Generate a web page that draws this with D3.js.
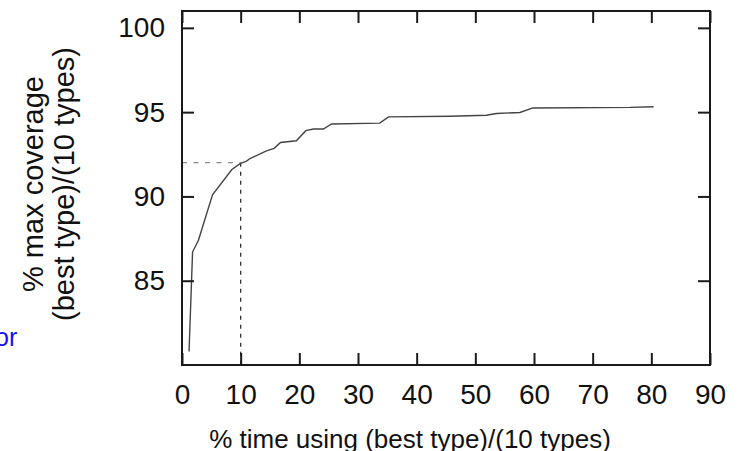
<!DOCTYPE html>
<html>
<head>
<meta charset="utf-8">
<script src="https://cdn.jsdelivr.net/npm/d3@7"></script>
<style>
  body { margin: 0; background: #fff; }
  svg text { font-family: "Liberation Sans", Arial, Helvetica, sans-serif; fill: #111; }
  .axis path { display: none; }
  .axis line { stroke: #1a1a1a; stroke-width: 2; }
</style>
</head>
<body>
<div id="visualization"></div>
<script>
// % time using (best type)/(10 types)
var timePct = [1.2, 1.8, 2.8, 5.2, 8.5, 9.9, 11.0, 11.6, 14.4, 15.7, 16.8, 19.5, 21.1, 22.4,
               24.1, 25.5, 33.7, 35.2, 45.7, 51.9, 53.6, 57.6, 59.8, 76.4, 80.4];
// % max coverage (best type)/(10 types)
var coveragePct = [80.8, 86.7, 87.4, 90.1, 91.6, 91.95, 92.1, 92.25, 92.7, 92.85, 93.2, 93.3, 93.9, 94.0,
                   94.0, 94.3, 94.35, 94.72, 94.76, 94.82, 94.92, 94.98, 95.25, 95.28, 95.32];
var xTicks = [0, 10, 20, 30, 40, 50, 60, 70, 80, 90];
var yTicks = [85, 90, 95, 100];
var marker = {x: 10, y: 92};

render();

function render() {
  var width = 744, height = 451;
  var margin = {top: 11, right: 34, bottom: 86, left: 182};

  var x = d3.scaleLinear()
            .domain([0, 90])
            .range([margin.left, width - margin.right]);

  var y = d3.scaleLinear()
            .domain([80, 101])
            .range([height - margin.bottom, margin.top]);

  var svg = d3.select('#visualization').append('svg')
              .attr('width', width)
              .attr('height', height);

  var data = timePct.map(function(t, i) { return {x: t, y: coveragePct[i]}; });

  // reference lines at 10%
  svg.append('line')
     .attr('x1', x(0)).attr('x2', x(marker.x))
     .attr('y1', y(marker.y)).attr('y2', y(marker.y))
     .attr('stroke', '#8a8a8a').attr('stroke-width', 1.3)
     .attr('stroke-dasharray', '5,6.5');

  svg.append('line')
     .attr('x1', x(marker.x)).attr('x2', x(marker.x))
     .attr('y1', y(marker.y)).attr('y2', y(80))
     .attr('stroke', '#333').attr('stroke-width', 1.3)
     .attr('stroke-dasharray', '4,5');

  svg.append('path')
     .datum(data)
     .attr('fill', 'none')
     .attr('stroke', '#444')
     .attr('stroke-width', 1.4)
     .attr('d', d3.line().x(d => x(d.x)).y(d => y(d.y)));

  var fs = '28px';

  svg.append('g')
     .attr('class', 'axis')
     .attr('transform', 'translate(0,' + y(80) + ')')
     .call(d3.axisBottom(x).tickValues(xTicks).tickSizeInner(-12).tickSizeOuter(0).tickPadding(19))
     .call(g => g.selectAll('text').style('font-size', fs).attr('fill', '#111'));

  svg.append('g')
     .attr('class', 'axis')
     .attr('transform', 'translate(0,' + y(101) + ')')
     .call(d3.axisTop(x).tickValues(xTicks).tickSizeInner(-12).tickSizeOuter(0).tickFormat(''));

  svg.append('g')
     .attr('class', 'axis')
     .attr('transform', 'translate(' + x(0) + ',0)')
     .call(d3.axisLeft(y).tickValues(yTicks).tickSizeInner(-12).tickSizeOuter(0).tickPadding(17))
     .call(g => g.selectAll('text').style('font-size', fs).attr('fill', '#111'));

  svg.append('g')
     .attr('class', 'axis')
     .attr('transform', 'translate(' + x(90) + ',0)')
     .call(d3.axisRight(y).tickValues(yTicks).tickSizeInner(-12).tickSizeOuter(0).tickFormat(''));

  // frame
  svg.append('rect')
     .attr('x', x(0)).attr('y', y(101))
     .attr('width', x(90) - x(0)).attr('height', y(80) - y(101))
     .attr('fill', 'none').attr('stroke', '#1a1a1a').attr('stroke-width', 2);

  // X-Axis label
  svg.append('text')
     .attr('x', 410).attr('y', 448)
     .attr('text-anchor', 'middle')
     .style('font-size', '26px')
     .text('% time using (best type)/(10 types)');

  // Y-Axis label, two lines
  var yl = svg.append('text')
     .attr('transform', 'translate(43,184) rotate(-90)')
     .attr('text-anchor', 'middle')
     .style('font-size', '29px');
  yl.append('tspan').attr('x', 0).attr('y', 0).text('% max coverage');
  yl.append('tspan').attr('x', 0).attr('y', 31).text('(best type)/(10 types)');

  // stray text from the page the figure was cut from
  svg.append('text')
     .attr('x', -5).attr('y', 346)
     .style('font-size', '25px')
     .style('fill', '#1010ff')
     .text('or');
}
</script>
</body>
</html>
